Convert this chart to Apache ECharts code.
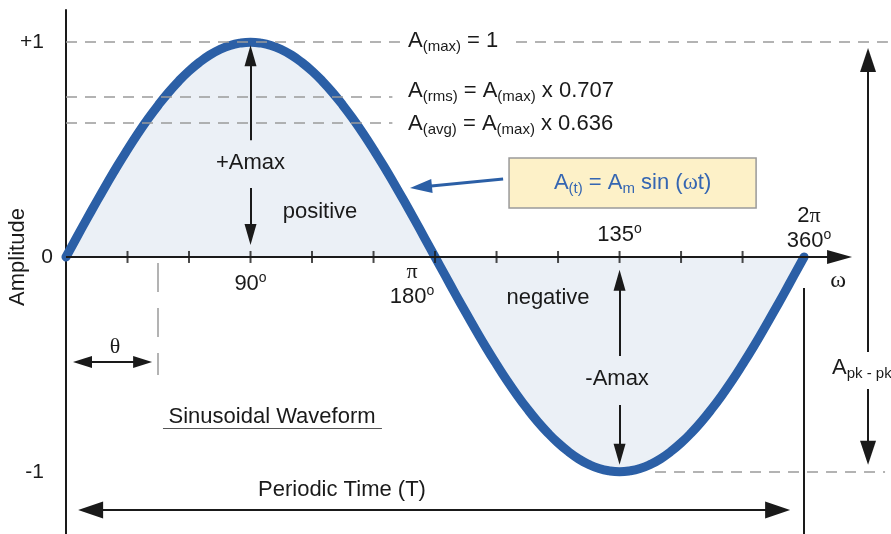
<!DOCTYPE html>
<html>
<head>
<meta charset="utf-8">
<title>Sinusoidal Waveform</title>
<script src="https://cdn.jsdelivr.net/npm/echarts@6/dist/echarts.min.js"></script>
<style>
html,body{margin:0;padding:0;background:#fff;}
#main{width:891px;height:534px;}
</style>
</head>
<body>
<div id="main"></div>
<script>
var SANS = '"Liberation Sans", Arial, Helvetica, sans-serif';
var SERIF = '"Liberation Serif", "DejaVu Serif", serif';
var INK = '#1a1a1a';
var BLUE = '#2b5fa6';
var DASH = '#9a9a9a';

// curve (degrees / amplitude)
var angleDeg = [0,5,10,15,20,25,30,35,40,45,50,55,60,65,70,75,80,85,90,
                95,100,105,110,115,120,125,130,135,140,145,150,155,160,165,170,175,180,
                185,190,195,200,205,210,215,220,225,230,235,240,245,250,255,260,265,270,
                275,280,285,290,295,300,305,310,315,320,325,330,335,340,345,350,355,360];
var amplitude = [0,0.087,0.174,0.259,0.342,0.423,0.5,0.574,0.643,0.707,0.766,0.819,0.866,0.906,0.94,0.966,0.985,0.996,1,
                 0.996,0.985,0.966,0.94,0.906,0.866,0.819,0.766,0.707,0.643,0.574,0.5,0.423,0.342,0.259,0.174,0.087,0,
                 -0.087,-0.174,-0.259,-0.342,-0.423,-0.5,-0.574,-0.643,-0.707,-0.766,-0.819,-0.866,-0.906,-0.94,-0.966,-0.985,-0.996,-1,
                 -0.996,-0.985,-0.966,-0.94,-0.906,-0.866,-0.819,-0.766,-0.707,-0.643,-0.574,-0.5,-0.423,-0.342,-0.259,-0.174,-0.087,0];

// axis ticks / labels
var xTickDeg = [30,60,90,120,150,180,210,240,270,300,330];
var yTickValues = [-1, 0, 1];
var yTickLabels = ['-1', '0', '+1'];

// dashed reference levels as drawn: A(max), A(rms), A(avg), -A(max)
var levelValues = [1, 0.745, 0.624, -1];

// axis extents (the grid fills the canvas right of the amplitude axis)
var xMin = 0, xMax = 402.4, yMin = -1.29, yMax = 1.15;
var gridLeft = 66, gridTop = 10;
var pxPerDeg = (891 - gridLeft) / (xMax - xMin);
var pxPerAmp = (534 - gridTop) / (yMax - yMin);

// move an arrow end back so the triangle's tip sits on the given point
function tipCenter(tail, tip, len) {
  var dx = (tip[0] - tail[0]) * pxPerDeg, dy = (tip[1] - tail[1]) * pxPerAmp;
  var k = (len / 2) / Math.sqrt(dx * dx + dy * dy);
  return [tip[0] - (tip[0] - tail[0]) * k, tip[1] - (tip[1] - tail[1]) * k];
}
function arrow(tail, tip, size, color, width) {
  return [
    {coord: tail, symbol: 'none', lineStyle: {color: color, width: width, type: 'solid'}},
    {coord: tipCenter(tail, tip, size[1]), symbol: 'triangle', symbolSize: size}
  ];
}
function dblArrow(a, b, size, color, width) {
  return [
    {coord: tipCenter(b, a, size[1]), symbol: 'triangle', symbolSize: size,
     lineStyle: {color: color, width: width, type: 'solid'}},
    {coord: tipCenter(a, b, size[1]), symbol: 'triangle', symbolSize: size}
  ];
}
function seg(a, b, color, width, type) {
  return [
    {coord: a, symbol: 'none', lineStyle: {color: color, width: width, type: type}},
    {coord: b, symbol: 'none'}
  ];
}
function note(coord, text, align) {
  return {coord: coord, value: 0, label: {formatter: text, align: align || 'center'}};
}

var rich = {
  m: {fontSize: 22, fontFamily: SANS, color: INK, lineHeight: 26},
  s: {fontSize: 15, fontFamily: SANS, color: INK, lineHeight: 13, verticalAlign: 'bottom'},
  o: {fontSize: 14, fontFamily: SANS, color: INK, lineHeight: 13, verticalAlign: 'top'},
  g: {fontSize: 22, fontFamily: SERIF, color: INK, lineHeight: 26},
  w: {fontSize: 24, fontFamily: SERIF, color: INK, lineHeight: 26},
  bm: {fontSize: 22, fontFamily: SANS, color: '#3566b2', lineHeight: 26},
  bs: {fontSize: 15, fontFamily: SANS, color: '#3566b2', lineHeight: 13, verticalAlign: 'bottom'},
  bg: {fontSize: 23, fontFamily: SERIF, color: '#3566b2', lineHeight: 26}
};

var solid = 2;
var lines = [
  // omega axis with arrow head
  arrow([0, 0], [383.4, 0], [14, 25], INK, solid),
  // dashed levels
  seg([0, levelValues[0]], [162.9, levelValues[0]], DASH, 1.5, [11, 8]),
  seg([219.5, levelValues[0]], [400.9, levelValues[0]], DASH, 1.5, [11, 8]),
  seg([0, levelValues[1]], [159.2, levelValues[1]], DASH, 1.5, [11, 8]),
  seg([0, levelValues[2]], [159.2, levelValues[2]], DASH, 1.5, [11, 8]),
  seg([287.3, levelValues[3]], [399.5, levelValues[3]], DASH, 1.5, [11, 8]),
  seg([44.9, -0.028], [44.9, -0.55], DASH, 1.5, [29, 16]),
  // end of period marker
  seg([360, -0.144], [360, yMin], INK, solid, 'solid'),
  // underline of the caption
  seg([47.3, -0.796], [154.1, -0.796], '#555', 1.2, 'solid'),
  // +Amax / -Amax
  arrow([90, 0.544], [90, 0.986], [12, 21], INK, solid),
  arrow([90, 0.321], [90, 0.056], [12, 21], INK, solid),
  arrow([270, -0.461], [270, -0.06], [12, 21], INK, solid),
  arrow([270, -0.689], [270, -0.968], [12, 21], INK, solid),
  // theta, periodic time
  dblArrow([3.4, -0.489], [42, -0.489], [12, 19], INK, solid),
  dblArrow([5.9, -1.178], [353.2, -1.178], [17, 25], INK, solid),
  // peak to peak
  arrow([391.2, -0.442], [391.2, 0.973], [16, 24], INK, solid),
  arrow([391.2, -0.615], [391.2, -0.968], [16, 24], INK, solid),
  // pointer from the formula box
  arrow([213.2, 0.363], [167.8, 0.321], [14, 22], BLUE, 3)
];

var notes = [
  note([90, -0.126], '{m|90}{o|o}'),
  note([168.8, -0.07], '{g|π}'),
  note([168.8, -0.185], '{m|180}{o|o}'),
  note([270, 0.102], '{m|135}{o|o}'),
  note([362.4, 0.191], '{m|2}{g|π}'),
  note([362.4, 0.074], '{m|360}{o|o}'),
  note([376.6, -0.112], '{w|ω}'),
  note([23.9, -0.419], '{g|θ}'),
  note([90, 0.438], '{m|+Amax}'),
  note([123.9, 0.208], '{m|positive}'),
  note([235.1, -0.191], '{m|negative}'),
  note([268.8, -0.568], '{m|-Amax}'),
  note([100.5, -0.745], '{m|Sinusoidal Waveform}'),
  note([134.6, -1.085], '{m|Periodic Time (T)}'),
  note([373.6, -0.519], '{m|A}{s|pk - pk}', 'left'),
  note([166.8, 1.005], '{m|A}{s|(max)}{m| = 1}', 'left'),
  note([166.8, 0.773], '{m|A}{s|(rms)}{m| = A}{s|(max)}{m| x 0.707}', 'left'),
  note([166.8, 0.619], '{m|A}{s|(avg)}{m| = A}{s|(max)}{m| x 0.636}', 'left')
];

var chart = echarts.init(document.getElementById('main'));
var option = {
  backgroundColor: '#ffffff',
  animation: false,
  grid: {left: gridLeft, right: 0, top: gridTop, bottom: 0},
  xAxis: {
    type: 'value', min: xMin, max: xMax,
    axisLine: {show: false}, axisTick: {show: false},
    axisLabel: {show: false}, splitLine: {show: false}
  },
  yAxis: {
    type: 'value', min: yMin, max: yMax,
    axisLine: {show: true, onZero: false, lineStyle: {color: INK, width: 2}},
    axisTick: {show: false},
    splitLine: {show: false},
    axisLabel: {
      customValues: yTickValues,
      margin: 13,
      fontSize: 21, fontFamily: SANS, color: INK,
      formatter: function (v) {
        var i = yTickValues.indexOf(Math.round(v));
        return v === 0 ? yTickLabels[i] : '{p|' + yTickLabels[i] + '}';
      },
      rich: {p: {fontSize: 21, fontFamily: SANS, color: INK, padding: [0, 9, 0, 0]}}
    }
  },
  graphic: [{
    type: 'text', x: 18, y: 257, rotation: Math.PI / 2,
    style: {text: 'Amplitude', fontSize: 22, fontFamily: SANS, fill: INK,
            align: 'center', verticalAlign: 'middle',
            textAlign: 'center', textVerticalAlign: 'middle'}
  }],
  series: [
    {
      name: 'wave',
      type: 'line',
      smooth: true,
      showSymbol: false,
      silent: true,
      data: angleDeg.map(function (d, i) { return [d, amplitude[i]]; }),
      lineStyle: {color: BLUE, width: 9, cap: 'round', join: 'round'},
      areaStyle: {color: '#ebf0f6', opacity: 1},
      z: 3,
      markLine: {
        silent: true,
        symbol: 'none',
        label: {show: false},
        data: lines
      },
      markPoint: {
        silent: true,
        symbol: 'circle',
        symbolSize: 1,
        itemStyle: {color: 'rgba(0,0,0,0)'},
        label: {show: true, position: 'inside', color: INK, textBorderWidth: 0, rich: rich},
        data: notes
      },
      markArea: {
        silent: true,
        itemStyle: {color: '#fdf1c8', borderColor: '#9a9a9a', borderWidth: 1.5},
        label: {
          show: true, position: 'inside', textBorderWidth: 0, rich: rich,
          formatter: '{bm|A}{bs|(t)}{bm| = A}{bs|m}{bm| sin (}{bg|ω}{bm|t)}'
        },
        data: [[{coord: [216.1, 0.461]}, {coord: [336.6, 0.228]}]]
      }
    },
    {
      name: 'ticks',
      type: 'scatter',
      silent: true,
      symbol: 'rect',
      symbolSize: [2, 12],
      itemStyle: {color: INK},
      data: xTickDeg.map(function (d) { return [d, 0]; }),
      z: 4
    }
  ]
};
chart.setOption(option);
</script>
</body>
</html>
